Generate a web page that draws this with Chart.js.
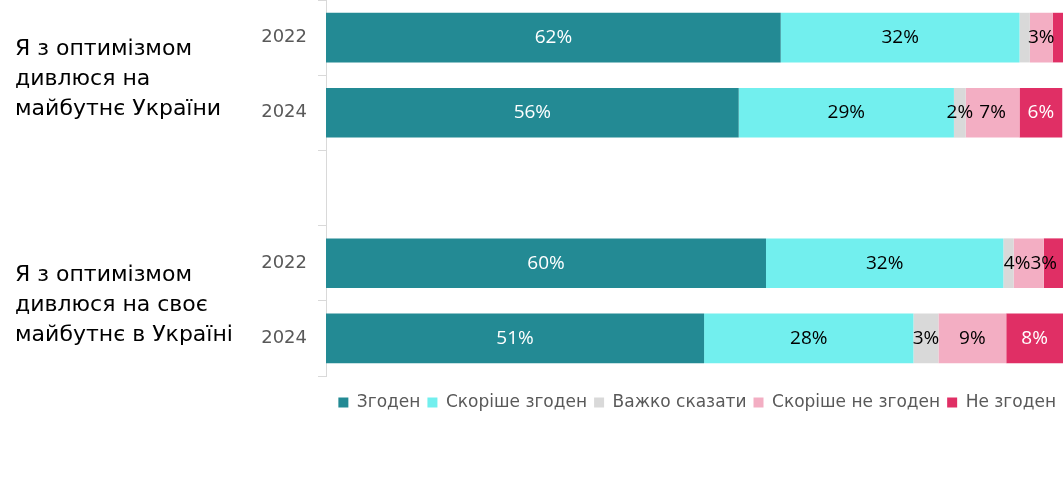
<!DOCTYPE html>
<html lang="uk">
<head>
    <meta charset="UTF-8">
    <title>Оптимізм щодо майбутнього</title>
    <script src="https://cdn.jsdelivr.net/npm/chart.js"></script>
    <style>
        body {
            margin: 0;
            background: #fff;
        }
        canvas {
            display: block;
        }
    </style>
</head>
<body>
    <canvas id="optimismChart" width="1063" height="487"></canvas>

    <script>
        // rows: two survey years per statement, empty row as a spacer between the groups
        const years = ['2022', '2024', '', '2022', '2024'];
        const groupLabels = [
            ['Я з оптимізмом', 'дивлюся на', 'майбутнє України'],
            ['Я з оптимізмом', 'дивлюся на своє', 'майбутнє в Україні']
        ];
        const groupRows = [[0, 1], [3, 4]];

        const seriesNames = ['Згоден', 'Скоріше згоден', 'Важко сказати', 'Скоріше не згоден', 'Не згоден'];
        const agree       = [61.7, 56.0, null, 59.7, 51.3];
        const ratherAgree = [32.4, 29.2, null, 32.2, 28.4];
        const hardToSay   = [1.4, 1.6, null, 1.4, 3.4];
        const ratherNot   = [3.1, 7.3, null, 4.1, 9.2];
        const disagree    = [1.4, 5.8, null, 2.6, 7.7];

        const colors = ['#238a94', '#72efee', '#d9d9d9', '#f3aec3', '#e02f65'];
        const labelColors = ['#fff', '#000', '#000', '#000', '#fff'];

        // percentage labels in the middle of each segment, small ones hidden,
        // labels pushed left (and drawn dark) when they would run off the edge
        const segmentLabels = {
            id: 'segmentLabels',
            afterDatasetsDraw(chart) {
                const ctx = chart.ctx;
                const right = chart.chartArea.right;
                ctx.save();
                ctx.font = '19px "Open Sans"';
                ctx.textBaseline = 'middle';
                ctx.textAlign = 'center';
                years.forEach((y, row) => {
                    let limit = right - 6;
                    for (let d = chart.data.datasets.length - 1; d >= 0; d--) {
                        const v = chart.data.datasets[d].data[row];
                        if (v == null || v < 1.6) continue;
                        const bar = chart.getDatasetMeta(d).data[row];
                        const text = Math.round(v) + '%';
                        const w = ctx.measureText(text).width;
                        let x = (bar.x + bar.base) / 2;
                        let shifted = false;
                        if (x + w / 2 > limit) {
                            x = limit - w / 2;
                            shifted = true;
                        }
                        limit = x - w / 2;
                        ctx.fillStyle = shifted ? '#000' : labelColors[d];
                        ctx.fillText(text, x, bar.y);
                    }
                });
                ctx.restore();
            }
        };

        // statement text to the left of each pair of years
        const groupText = {
            id: 'groupText',
            afterDraw(chart) {
                const ctx = chart.ctx;
                const yScale = chart.scales.y;
                ctx.save();
                ctx.font = '22px "DejaVu Sans"';
                ctx.fillStyle = '#000';
                ctx.textAlign = 'left';
                ctx.textBaseline = 'middle';
                groupLabels.forEach((lines, g) => {
                    const [a, b] = groupRows[g];
                    const mid = (yScale.getPixelForValue(a) + yScale.getPixelForValue(b)) / 2 + 4;
                    lines.forEach((line, i) => {
                        ctx.fillText(line, 15, mid + (i - (lines.length - 1) / 2) * 30);
                    });
                });
                ctx.restore();
            }
        };

        const ctx = document.getElementById('optimismChart').getContext('2d');
        new Chart(ctx, {
            type: 'bar',
            data: {
                labels: years,
                datasets: [agree, ratherAgree, hardToSay, ratherNot, disagree].map((values, i) => ({
                    label: seriesNames[i],
                    data: values,
                    backgroundColor: colors[i],
                    borderWidth: 0,
                    barPercentage: 0.66,
                    categoryPercentage: 1
                }))
            },
            options: {
                indexAxis: 'y',
                responsive: false,
                animation: false,
                layout: {
                    padding: { left: 0, right: 0, top: 0, bottom: 66 }
                },
                scales: {
                    x: {
                        stacked: true,
                        min: 0,
                        max: 100,
                        grid: { display: false },
                        border: { display: false },
                        ticks: { display: false },
                        afterFit(scale) {
                            scale.height = 11;
                            scale.paddingLeft = 0;
                            scale.paddingRight = 0;
                        }
                    },
                    y: {
                        stacked: true,
                        grid: {
                            drawOnChartArea: false,
                            drawTicks: true,
                            tickLength: 8,
                            color: '#d9d9d9',
                            offset: true
                        },
                        border: { color: '#d9d9d9' },
                        ticks: {
                            color: '#595959',
                            padding: 11,
                            font: { family: '"DejaVu Sans"', size: 18 }
                        },
                        afterFit(scale) {
                            scale.width = 326;
                            scale.paddingTop = 0;
                            scale.paddingBottom = 0;
                        }
                    }
                },
                plugins: {
                    legend: {
                        position: 'bottom',
                        align: 'end',
                        labels: {
                            boxWidth: 10,
                            boxHeight: 10,
                            padding: 7,
                            color: '#595959',
                            font: { family: '"DejaVu Sans"', size: 17 }
                        }
                    },
                    tooltip: { enabled: false }
                }
            },
            plugins: [segmentLabels, groupText]
        });
    </script>
</body>
</html>
